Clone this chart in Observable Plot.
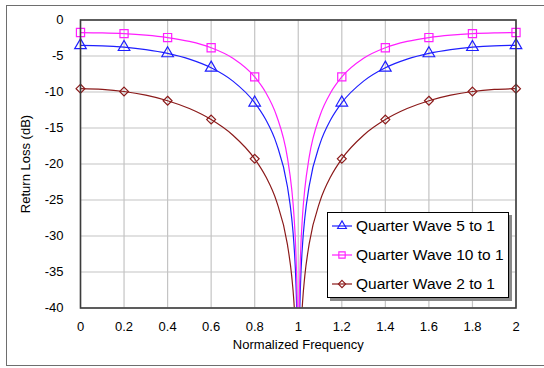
<!DOCTYPE html>
<html>
<head>
<meta charset="utf-8">
<script src="https://cdn.jsdelivr.net/npm/d3@7"></script>
<script src="https://cdn.jsdelivr.net/npm/@observablehq/plot@0.6"></script>
<style>
  html, body { margin: 0; padding: 0; background: #fff; }
  body { font-family: "Liberation Sans", Arial, sans-serif; }
  #wrap { position: relative; width: 544px; height: 368px; overflow: hidden; }
  #border { position: absolute; left: 6px; top: 5px; width: 545px; height: 361px; border: 1.5px solid #6e6e6e; box-sizing: border-box; }
  #chart { position: absolute; left: 0; top: 0; }
  #legend { position: absolute; left: 327px; top: 212px; width: 182px; height: 86px; border: 1px solid #000; background: #fff; box-shadow: 3px 3px 0 #8a8a8a; box-sizing: border-box; }
  .row { position: absolute; left: 4px; height: 20px; display: flex; align-items: center; font-size: 15.5px; color: #000; white-space: nowrap; }
  .row svg { margin-right: 4px; }
</style>
</head>
<body>
<div id="wrap">
  <div id="border"></div>
  <div id="chart"></div>
  <div id="legend"></div>
</div>
<script>
// ---- data ----
const seriesNames = ["Quarter Wave 5 to 1", "Quarter Wave 10 to 1", "Quarter Wave 2 to 1"];
const seriesColors = ["#1f1fff", "#ff1fff", "#8b1a1a"];

// curve sample frequencies
const freq = [0, 0.1, 0.2, 0.3, 0.4, 0.5, 0.6, 0.7, 0.8, 0.85, 0.9, 0.95, 0.97, 0.98, 0.99, 0.995, 0.997, 1,
              1.003, 1.005, 1.01, 1.02, 1.03, 1.05, 1.1, 1.15, 1.2, 1.3, 1.4, 1.5, 1.6, 1.7, 1.8, 1.9, 2];
const rl5 = [-3.52, -3.58, -3.77, -4.11, -4.64, -5.44, -6.64, -8.49, -11.49, -13.79, -17.17, -23.09, -27.52, -31.03, -37.05, -43.1, -47.5, null,
             -47.5, -43.1, -37.05, -31.03, -27.52, -23.09, -17.17, -13.79, -11.49, -8.49, -6.64, -5.44, -4.64, -4.11, -3.77, -3.58, -3.52];
const rl10 = [-1.74, -1.78, -1.89, -2.10, -2.44, -2.98, -3.85, -5.31, -7.90, -10.03, -13.26, -19.09, -23.49, -27.0, -33.0, -39.03, -43.5, null,
              -43.5, -39.03, -33.0, -27.0, -23.49, -19.09, -13.26, -10.03, -7.90, -5.31, -3.85, -2.98, -2.44, -2.10, -1.89, -1.78, -1.74];
const rl2 = [-9.54, -9.64, -9.93, -10.44, -11.21, -12.30, -13.83, -16.00, -19.28, -21.70, -25.16, -31.14, -35.57, -39.09, -45.1, -51.1, -55.6, null,
             -55.6, -51.1, -45.1, -39.09, -35.57, -31.14, -25.16, -21.70, -19.28, -16.00, -13.83, -12.30, -11.21, -10.44, -9.93, -9.64, -9.54];

// marker points
const markerFreq = [0, 0.2, 0.4, 0.6, 0.8, 1.2, 1.4, 1.6, 1.8, 2];
const mk5 = [-3.52, -3.77, -4.64, -6.64, -11.49, -11.49, -6.64, -4.64, -3.77, -3.52];
const mk10 = [-1.74, -1.89, -2.44, -3.85, -7.90, -7.90, -3.85, -2.44, -1.89, -1.74];
const mk2 = [-9.54, -9.93, -11.21, -13.83, -19.28, -19.28, -13.83, -11.21, -9.93, -9.54];

const xTicks = [0, 0.2, 0.4, 0.6, 0.8, 1, 1.2, 1.4, 1.6, 1.8, 2];
const yTicks = [0, -5, -10, -15, -20, -25, -30, -35, -40];

// ---- build tables ----
const curveVals = [rl5, rl10, rl2];
const markVals = [mk5, mk10, mk2];
const curves = [], marks = [];
seriesNames.forEach((s, i) => {
  freq.forEach((f, j) => curves.push({s, f, v: curveVals[i][j]}));
  markerFreq.forEach((f, j) => marks.push({s, f, v: markVals[i][j]}));
});
const colorOf = Object.fromEntries(seriesNames.map((s, i) => [s, seriesColors[i]]));
const font = "'Liberation Sans', Arial, sans-serif";
const fmt = d => String(d);

const chart = Plot.plot({
  width: 544,
  height: 368,
  marginLeft: 80,
  marginRight: 28.5,
  marginTop: 19.5,
  marginBottom: 60.5,
  style: {fontFamily: font, fontSize: "13px", color: "#000", background: "transparent"},
  x: {domain: [0, 2]},
  y: {domain: [-40, 0]},
  marks: [
    Plot.gridX(xTicks, {stroke: "#c4c4c4", strokeOpacity: 1, strokeWidth: 1.2}),
    Plot.gridY(yTicks, {stroke: "#c4c4c4", strokeOpacity: 1, strokeWidth: 1.2}),
    Plot.axisX(xTicks, {tickSize: 0, tickPadding: 14, fontSize: 13, tickFormat: fmt, label: "Normalized Frequency", labelAnchor: "center", labelArrow: "none", labelOffset: 41}),
    Plot.axisY(yTicks, {tickSize: 0, tickPadding: 17, fontSize: 13, tickFormat: fmt, label: "Return Loss (dB)", labelAnchor: "center", labelArrow: "none", labelOffset: 60}),
    Plot.line(curves, {x: "f", y: "v", z: "s", stroke: d => colorOf[d.s], strokeWidth: 1.2, curve: "monotone-x", clip: true}),
    Plot.dot(marks.filter(d => d.s === seriesNames[0]), {x: "f", y: "v", symbol: "triangle", r: 4.3, stroke: seriesColors[0], fill: "none", strokeWidth: 1.2}),
    Plot.dot(marks.filter(d => d.s === seriesNames[1]), {x: "f", y: "v", symbol: "square", r: 4.6, stroke: seriesColors[1], fill: "none", strokeWidth: 1.2}),
    Plot.dot(marks.filter(d => d.s === seriesNames[2]), {x: "f", y: "v", symbol: "diamond2", r: 4.0, stroke: seriesColors[2], fill: "none", strokeWidth: 1.2}),
    Plot.frame({stroke: "#3c3c3c", strokeWidth: 1.6})
  ]
});
document.getElementById("chart").appendChild(chart);

// ---- legend ----
const symbols = ["triangle", "square", "diamond2"];
const legend = d3.select("#legend");
seriesNames.forEach((s, i) => {
  const row = legend.append("div").attr("class", "row").style("top", (3 + i * 29) + "px");
  const svg = row.append("svg").attr("width", 20).attr("height", 14);
  svg.append("line").attr("x1", 0).attr("x2", 20).attr("y1", 7).attr("y2", 7)
     .attr("stroke", seriesColors[i]).attr("stroke-width", 1.2);
  const sym = {triangle: d3.symbolTriangle, square: d3.symbolSquare, diamond2: d3.symbolDiamond2}[symbols[i]];
  svg.append("path").attr("transform", "translate(10,7)")
     .attr("d", d3.symbol(sym, i === 1 ? 40 : 34)())
     .attr("fill", "none").attr("stroke", seriesColors[i]).attr("stroke-width", 1.1);
  row.append("span").text(s);
});
</script>
</body>
</html>
